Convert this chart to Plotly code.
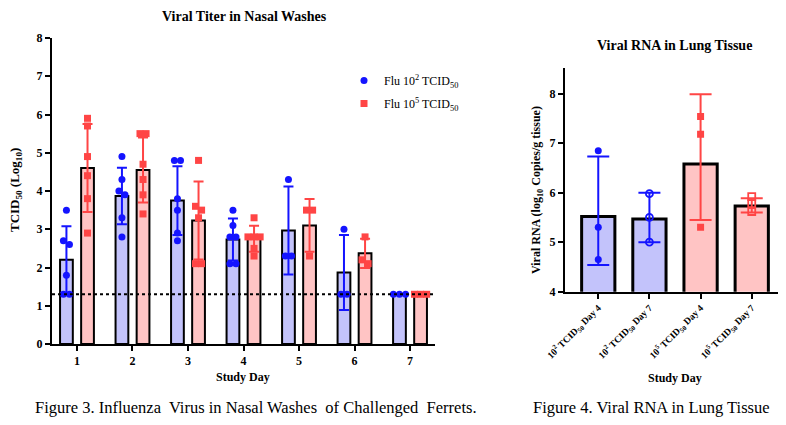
import plotly.graph_objects as go

# ---------------- data: left chart (nasal washes) ----------------
days = [1, 2, 3, 4, 5, 6, 7]
low_points = [
    [3.5, 2.7, 2.6, 1.8, 1.3, 1.3],
    [4.9, 4.3, 4.0, 3.9, 3.3, 2.8],
    [4.8, 4.8, 3.8, 3.5, 2.9, 2.7],
    [3.5, 3.1, 2.8, 2.8, 2.1, 2.1],
    [4.3, 2.3, 2.3],
    [3.0, 1.3, 1.3],
    [1.3, 1.3, 1.3],
]
high_points = [
    [5.9, 5.7, 4.9, 4.4, 3.8, 2.9],
    [5.5, 5.5, 4.7, 4.3, 3.9, 3.4],
    [4.8, 3.6, 3.5, 3.3, 2.1, 2.1],
    [3.3, 2.8, 2.8, 2.8, 2.5, 2.3],
    [3.5, 3.5, 2.3],
    [2.8, 2.2, 2.1],
    [1.3, 1.3, 1.3],
]
low_mean = [2.20, 3.87, 3.75, 2.73, 2.97, 1.87, 1.30]
low_sd = [0.88, 0.74, 0.90, 0.55, 1.15, 0.98, None]
high_mean = [4.60, 4.55, 3.23, 2.75, 3.10, 2.37, 1.30]
high_sd = [1.15, 0.85, 1.02, 0.34, 0.69, 0.38, None]
detection_limit = 1.3
left_ticks = [0, 1, 2, 3, 4, 5, 6, 7, 8]

# ---------------- data: right chart (lung tissue) ----------------
rna_labels = [
    "10<sup>2</sup> TCID<sub>50</sub> Day 4",
    "10<sup>2</sup> TCID<sub>50</sub> Day 7",
    "10<sup>5</sup> TCID<sub>50</sub> Day 4",
    "10<sup>5</sup> TCID<sub>50</sub> Day 7",
]
rna_bar = [5.52, 5.47, 6.58, 5.73]
rna_points = [
    [6.85, 5.30, 4.65],
    [5.98, 5.50, 5.00],
    [7.54, 7.18, 5.30],
    [5.92, 5.78, 5.62],
]
rna_err_plus = [1.21, 0.53, 1.41, 0.16]
rna_err_minus = [0.98, 0.47, 1.13, 0.13]
right_ticks = [4, 5, 6, 7, 8]

# ---------------- styles ----------------
BLUE = "#1414ff"
RED = "#ff4545"
BLUE_FILL = "#c3c3fb"
RED_FILL = "#ffc4c4"
FONT = "Liberation Serif, Times New Roman, serif"
PAGE_W, PAGE_H = 786, 425
BODY = 8  # default page margin around the plot div
W, H = PAGE_W - BODY, PAGE_H - BODY


def px_x(p):
    return (p - BODY) / W


def px_y(p):
    return 1 - (p - BODY) / H


def swarm(values, center, step=0.11, tol=0.15):
    order = sorted(range(len(values)), key=lambda i: -values[i])
    xs = [center] * len(values)
    groups = []
    for i in order:
        if groups and abs(values[groups[-1][-1]] - values[i]) <= tol:
            groups[-1].append(i)
        else:
            groups.append([i])
    for g in groups:
        n = len(g)
        for k, i in enumerate(g):
            xs[i] = center + (k - (n - 1) / 2) * step
    return xs


fig = go.Figure()

OFF = 0.19
BW = 0.23

groups_left = [
    ("Flu 10<sup>2</sup> TCID<sub>50</sub>", low_points, low_mean, low_sd, -OFF, BLUE, BLUE_FILL, "circle"),
    ("Flu 10<sup>5</sup> TCID<sub>50</sub>", high_points, high_mean, high_sd, OFF, RED, RED_FILL, "square"),
]
for gi, (name, pts, mean, sd, off, col, fill, sym) in enumerate(groups_left):
    xb = [d + off for d in days]
    fig.add_trace(go.Bar(
        x=xb, y=mean, width=BW, xaxis="x", yaxis="y",
        marker=dict(color=fill, line=dict(color="black", width=2)),
        error_y=dict(type="data", array=sd, color=col, thickness=2, width=5),
        showlegend=False, hoverinfo="skip",
    ))
    xs, ys = [], []
    for d, vals in zip(days, pts):
        xs += swarm(vals, d + off)
        ys += vals
    fig.add_trace(go.Scatter(
        x=xs, y=ys, mode="markers", xaxis="x", yaxis="y", name=name,
        legendgroup=f"g{gi}",
        marker=dict(color=col, size=7, symbol=sym, line=dict(width=0)),
    ))

# right chart
rcols = [BLUE, BLUE, RED, RED]
rfills = [BLUE_FILL, BLUE_FILL, RED_FILL, RED_FILL]
rsyms = ["circle", "circle-open", "square", "square-open"]
rline = [0, 1.8, 0, 1.8]
for i in range(4):
    fig.add_trace(go.Bar(
        x=[i], y=[rna_bar[i]], width=0.65, xaxis="x2", yaxis="y2",
        marker=dict(color=rfills[i], line=dict(color="black", width=3)),
        error_y=dict(type="data", symmetric=False, array=[rna_err_plus[i]],
                     arrayminus=[rna_err_minus[i]], color=rcols[i], thickness=2, width=11),
        showlegend=False, hoverinfo="skip",
    ))
    fig.add_trace(go.Scatter(
        x=[i] * len(rna_points[i]), y=rna_points[i], mode="markers",
        xaxis="x2", yaxis="y2", showlegend=False,
        marker=dict(color=rcols[i], size=7, symbol=rsyms[i], line=dict(width=rline[i], color=rcols[i])),
    ))

fig.add_shape(type="line", xref="x", yref="y", x0=0.55, x1=7.45,
              y0=detection_limit, y1=detection_limit,
              line=dict(color="black", width=2, dash="dot"))

TICKFONT = dict(family=FONT, size=12, color="black")
axis_common = dict(showline=True, linecolor="black", linewidth=2, ticks="outside",
                   tickcolor="black", tickwidth=2, ticklen=5, showgrid=False, zeroline=False,
                   automargin=False)


def label(text, x, y, size, angle=0):
    return dict(text=text, x=px_x(x), y=px_y(y), xref="paper", yref="paper",
                xanchor="center", yanchor="middle", showarrow=False, textangle=angle,
                borderpad=0, font=dict(family=FONT, size=size, color="black"))


fig.update_layout(
    width=W, height=H, margin=dict(l=0, r=0, t=0, b=0, autoexpand=False),
    paper_bgcolor="white", plot_bgcolor="white", barmode="overlay",
    font=dict(family=FONT, color="black"),
    xaxis=dict(domain=[px_x(52), px_x(435)], range=[0.55, 7.45], anchor="y",
               tickvals=days, ticktext=[f"<b>{d}</b>" for d in days], tickfont=TICKFONT,
               **axis_common),
    yaxis=dict(domain=[px_y(344), px_y(38)], range=[0, 8], anchor="x",
               tickvals=left_ticks, ticktext=[f"<b>{t}</b>" for t in left_ticks], tickfont=TICKFONT,
               **axis_common),
    xaxis2=dict(domain=[px_x(565), px_x(785)], range=[-0.65, 3.65], anchor="y2",
                tickvals=[0, 1, 2, 3], ticktext=[f"<b>{t}</b>" for t in rna_labels], tickangle=-45,
                tickfont=dict(family=FONT, size=9.5, color="black"),
                **axis_common),
    yaxis2=dict(domain=[px_y(291.7), px_y(68)], range=[4, 8.52], anchor="x2",
                tickvals=right_ticks, ticktext=[f"<b>{t}</b>" for t in right_ticks], tickfont=TICKFONT,
                **axis_common),
    legend=dict(x=px_x(344), y=px_y(66), xanchor="left", yanchor="top",
                font=dict(family=FONT, size=12, color="black"), tracegroupgap=4,
                bgcolor="rgba(0,0,0,0)"),
    annotations=[
        label("<b>Viral Titer in Nasal Washes</b>", 244, 17, 14),
        label("<b>Viral RNA in Lung Tissue</b>", 674, 45, 14),
        label("<b>TCID<sub>50</sub> (Log<sub>10</sub>)</b>", 16, 190, 13, -90),
        label("<b>Study Day</b>", 243, 377, 12),
        label("<b>Viral RNA (log<sub>10</sub> Copies/g tissue)</b>", 537, 190, 12, -90),
        label("<b>Study Day</b>", 675, 378, 12),
        label("Figure 3. Influenza  Virus in Nasal Washes  of Challenged  Ferrets.", 256, 407, 16.5),
        label("Figure 4. Viral RNA in Lung Tissue", 651, 407, 16.5),
    ],
)

fig.write_html("out.html")
